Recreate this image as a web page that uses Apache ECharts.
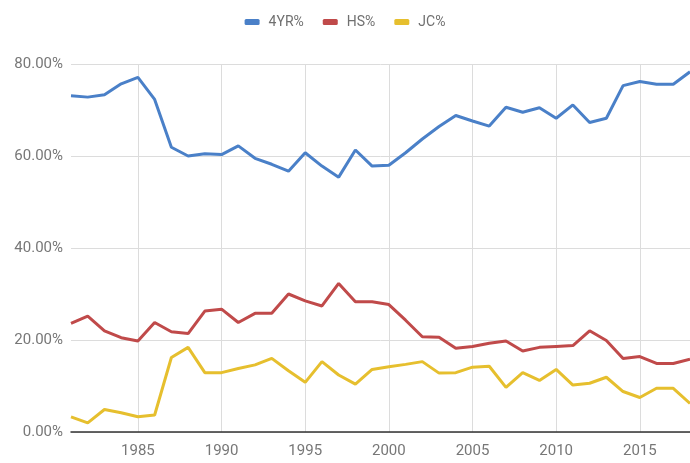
<!DOCTYPE html>
<html>
<head>
<meta charset="utf-8">
<script src="https://cdn.jsdelivr.net/npm/echarts@6/dist/echarts.min.js"></script>
<style>
  html, body { margin: 0; padding: 0; background: #fff; }
  #chart { width: 690px; height: 463px; }
</style>
</head>
<body>
<div id="chart"></div>
<script>
// Years on the horizontal axis
const years = [];
for (let y = 1981; y <= 2018; y++) years.push(String(y));

// Share of each group, in percent
const fourYear = [73.1, 72.8, 73.3, 75.7, 77.1, 72.3, 61.9, 60.0, 60.5, 60.3,
                  62.2, 59.5, 58.2, 56.7, 60.7, 57.8, 55.4, 61.3, 57.8, 58.0,
                  60.7, 63.7, 66.4, 68.8, 67.6, 66.5, 70.6, 69.5, 70.5, 68.2,
                  71.1, 67.3, 68.2, 75.3, 76.2, 75.6, 75.6, 78.3];
const highSchool = [23.6, 25.2, 22.0, 20.5, 19.8, 23.8, 21.8, 21.4, 26.3, 26.7,
                    23.8, 25.8, 25.8, 30.0, 28.5, 27.4, 32.3, 28.3, 28.3, 27.7,
                    24.3, 20.7, 20.6, 18.2, 18.6, 19.3, 19.8, 17.6, 18.4, 18.6,
                    18.8, 22.0, 19.9, 16.0, 16.4, 14.9, 14.9, 15.8];
const juniorCollege = [3.3, 2.0, 4.9, 4.2, 3.3, 3.7, 16.2, 18.4, 12.9, 12.9,
                       13.8, 14.6, 16.0, 13.3, 10.8, 15.3, 12.4, 10.4, 13.6, 14.2,
                       14.7, 15.3, 12.8, 12.9, 14.1, 14.3, 9.7, 12.9, 11.2, 13.6,
                       10.2, 10.6, 11.9, 8.8, 7.5, 9.5, 9.5, 6.2];

const seriesNames = ['4YR%', 'HS%', 'JC%'];
const seriesColors = ['#4a80c8', '#c04a4a', '#e6bf2e'];
const seriesData = [fourYear, highSchool, juniorCollege];

const fontFamily = 'Roboto, "Liberation Sans", sans-serif';
const showFive = (i, v) => Number(v) % 5 === 0;

const chart = echarts.init(document.getElementById('chart'), null, { renderer: 'canvas' });
chart.setOption({
  animation: false,
  backgroundColor: '#ffffff',
  color: seriesColors,
  legend: {
    top: 10,
    left: 'center',
    itemWidth: 15,
    itemHeight: 6,
    itemGap: 19,
    icon: 'roundRect',
    textStyle: { color: '#707070', fontSize: 14, fontFamily: fontFamily, padding: [0, 0, 0, 4] },
    data: seriesNames
  },
  grid: { left: 71, right: -3, top: 64, bottom: 31, containLabel: false },
  xAxis: {
    type: 'category',
    data: years,
    boundaryGap: false,
    axisLine: { show: true, lineStyle: { color: '#333', width: 1.5 } },
    axisTick: { show: false },
    axisLabel: {
      interval: showFive,
      color: '#777',
      fontSize: 15,
      fontFamily: fontFamily,
      margin: 12
    },
    splitLine: { show: true, interval: showFive, lineStyle: { color: '#dcdcdc', width: 1 } }
  },
  yAxis: {
    type: 'value',
    min: 0,
    max: 80,
    interval: 20,
    axisLine: { show: false },
    axisTick: { show: false },
    axisLabel: {
      color: '#777',
      fontSize: 15,
      fontFamily: fontFamily,
      margin: 8,
      formatter: v => v.toFixed(2) + '%'
    },
    splitLine: { lineStyle: { color: '#dcdcdc', width: 1 } }
  },
  series: seriesNames.map((name, i) => ({
    name: name,
    type: 'line',
    data: seriesData[i],
    showSymbol: false,
    smooth: false,
    lineStyle: { width: 3, color: seriesColors[i] },
    itemStyle: { color: seriesColors[i] }
  }))
});
</script>
</body>
</html>
